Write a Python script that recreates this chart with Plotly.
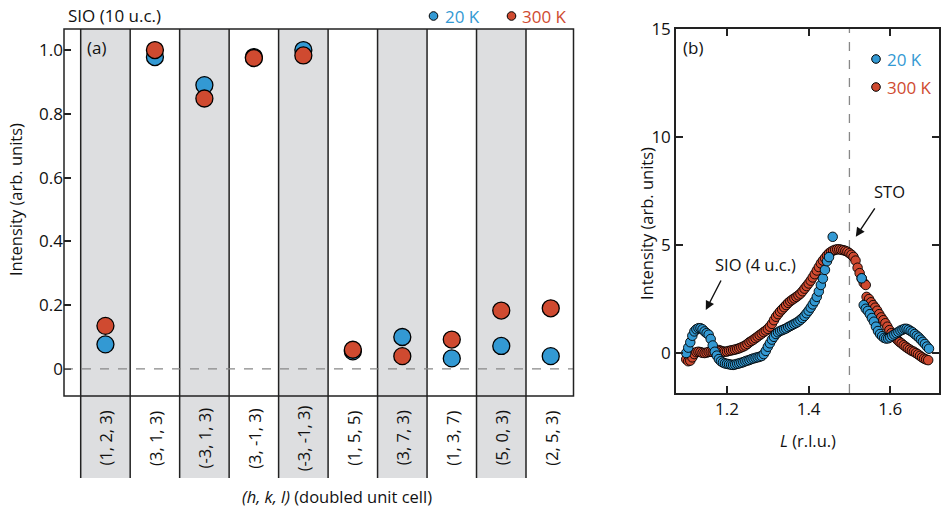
import plotly.graph_objects as go

W, H = 943, 511
def px(x): return x / W
def py(y): return 1 - y / H

BLUE = "#3399D3"
RED = "#CF4A30"
GREY = "#DDDEE0"
FONT = "Open Sans"

# ---------------- Panel (a) data ----------------
hkl_labels = ["(1, 2, 3)", "(3, 1, 3)", "(-3, 1, 3)", "(3, -1, 3)", "(-3, -1, 3)",
              "(1, 5, 5)", "(3, 7, 3)", "(1, 3, 7)", "(5, 0, 3)", "(2, 5, 3)"]
a_20K = [0.077, 0.978, 0.890, 0.978, 1.000, 0.055, 0.100, 0.033, 0.072, 0.040]
a_300K = [0.135, 1.000, 0.848, 0.975, 0.983, 0.060, 0.040, 0.092, 0.183, 0.190]
a_yticks = [0, 0.2, 0.4, 0.6, 0.8, 1.0]
a_yticktext = ["0", "0.2", "0.4", "0.6", "0.8", "1.0"]

# ---------------- Panel (b) data ----------------
L_20K = [1.100, 1.105, 1.110, 1.115, 1.120, 1.125, 1.130, 1.135, 1.140, 1.145,
         1.150, 1.155, 1.160, 1.165, 1.170, 1.175, 1.180, 1.185, 1.190, 1.195,
         1.200, 1.205, 1.210, 1.215, 1.220, 1.225, 1.230, 1.235, 1.240, 1.245,
         1.250, 1.255, 1.260, 1.265, 1.270, 1.275, 1.280, 1.285, 1.290, 1.295,
         1.300, 1.305, 1.310, 1.315, 1.320, 1.325, 1.330, 1.335, 1.340, 1.345,
         1.350, 1.355, 1.360, 1.365, 1.370, 1.375, 1.380, 1.385, 1.390, 1.395,
         1.400, 1.405, 1.410, 1.415, 1.420, 1.425, 1.430, 1.435, 1.440, 1.445,
         1.450, 1.459,
         1.530, 1.535, 1.540, 1.545, 1.550, 1.555, 1.560, 1.565, 1.570, 1.575,
         1.580, 1.585, 1.590, 1.595, 1.600, 1.605, 1.610, 1.615, 1.620, 1.625,
         1.630, 1.635, 1.640, 1.645, 1.650, 1.655, 1.660, 1.665, 1.670, 1.675,
         1.680, 1.685, 1.690, 1.695]
I_20K = [0.00, 0.25, 0.50, 0.80, 1.00, 1.10, 1.15, 1.15, 1.10, 1.00,
         0.92, 0.85, 0.65, 0.35, 0.06, -0.12, -0.28, -0.38, -0.44, -0.48,
         -0.50, -0.52, -0.54, -0.55, -0.53, -0.50, -0.48, -0.45, -0.42, -0.38,
         -0.35, -0.32, -0.28, -0.25, -0.22, -0.20, -0.17, -0.14, -0.05, 0.10,
         0.29, 0.45, 0.62, 0.75, 0.88, 0.96, 1.02, 1.06, 1.10, 1.14,
         1.20, 1.25, 1.30, 1.35, 1.40, 1.46, 1.54, 1.62, 1.72, 1.84,
         1.96, 2.10, 2.25, 2.40, 2.60, 2.85, 3.15, 3.45, 3.85, 4.25,
         4.44, 5.38,
         3.46, 2.22, 2.05, 1.95, 1.80, 1.62, 1.45, 1.22, 1.02, 0.88,
         0.78, 0.70, 0.67, 0.68, 0.73, 0.80, 0.86, 0.92, 0.98, 1.04,
         1.08, 1.12, 1.12, 1.08, 1.02, 0.96, 0.88, 0.80, 0.72, 0.62,
         0.52, 0.42, 0.30, 0.20]

L_300K = [1.100, 1.105, 1.110, 1.115, 1.120, 1.125, 1.130, 1.135, 1.140, 1.145,
          1.150, 1.155, 1.160, 1.165, 1.170, 1.175, 1.180, 1.185, 1.190, 1.195,
          1.200, 1.205, 1.210, 1.215, 1.220, 1.225, 1.230, 1.235, 1.240, 1.245,
          1.250, 1.255, 1.260, 1.265, 1.270, 1.275, 1.280, 1.285, 1.290, 1.295,
          1.300, 1.305, 1.310, 1.315, 1.320, 1.325, 1.330, 1.335, 1.340, 1.345,
          1.350, 1.355, 1.360, 1.365, 1.370, 1.375, 1.380, 1.385, 1.390, 1.395,
          1.400, 1.405, 1.410, 1.415, 1.420, 1.425, 1.430, 1.435, 1.440, 1.445,
          1.450, 1.455, 1.460, 1.465, 1.470, 1.475, 1.480, 1.485, 1.490, 1.495,
          1.500, 1.505, 1.510, 1.515, 1.520, 1.525, 1.530, 1.535, 1.540,
          1.542, 1.548, 1.553, 1.558, 1.563, 1.568, 1.573, 1.578, 1.583, 1.588,
          1.593, 1.598, 1.603, 1.608, 1.613, 1.618, 1.623, 1.628, 1.633, 1.638,
          1.643, 1.648, 1.653, 1.658, 1.663, 1.668, 1.673, 1.678, 1.683, 1.688,
          1.693]
I_300K = [-0.29, -0.38, -0.35, -0.20, -0.05, 0.04, 0.06, 0.04, 0.01, 0.00,
          0.02, 0.05, 0.06, 0.05, 0.06, 0.10, 0.14, 0.10, 0.07, 0.06,
          0.07, 0.10, 0.12, 0.14, 0.16, 0.19, 0.22, 0.26, 0.30, 0.35,
          0.42, 0.50, 0.56, 0.62, 0.69, 0.76, 0.83, 0.90, 0.97, 1.04,
          1.12, 1.22, 1.35, 1.52, 1.68, 1.80, 1.92, 2.02, 2.12, 2.22,
          2.32, 2.40, 2.47, 2.53, 2.60, 2.67, 2.75, 2.86, 2.98, 3.10,
          3.22, 3.35, 3.50, 3.65, 3.82, 3.98, 4.15, 4.28, 4.40, 4.52,
          4.62, 4.69, 4.74, 4.78, 4.80, 4.80, 4.78, 4.76, 4.73, 4.69,
          4.62, 4.55, 4.45, 4.28, 3.95, 3.70, 3.45, 3.25, 3.15,
          2.60, 2.50, 2.35, 2.22, 2.10, 1.96, 1.80, 1.65, 1.52, 1.38,
          1.22, 1.06, 0.92, 0.80, 0.70, 0.60, 0.51, 0.44, 0.36, 0.29,
          0.22, 0.16, 0.10, 0.06, 0.00, -0.06, -0.13, -0.20, -0.26, -0.30,
          -0.33]
b_xticks = [1.2, 1.4, 1.6]
b_yticks = [0, 5, 10, 15]

# ---------------- geometry ----------------
A_L, A_R, A_T, A_B = 64, 573.5, 29, 396
B_L, B_R, B_T, B_B = 676, 939, 29, 393
A_XRANGE = [-0.8375, 9.46]
A_YRANGE = [-0.085, 1.066]
B_XRANGE = [1.075, 1.7195]
B_YRANGE = [-1.85, 15]
EXT_BOTTOM = 478

fig = go.Figure()

fig.add_trace(go.Scatter(
    x=list(range(len(hkl_labels))), y=a_20K, mode="markers", name="20 K",
    marker=dict(size=17, color=BLUE, line=dict(color="black", width=1.3)),
    xaxis="x", yaxis="y", showlegend=False, cliponaxis=False))
fig.add_trace(go.Scatter(
    x=list(range(len(hkl_labels))), y=a_300K, mode="markers", name="300 K",
    marker=dict(size=17, color=RED, line=dict(color="black", width=1.3)),
    xaxis="x", yaxis="y", showlegend=False, cliponaxis=False))

fig.add_trace(go.Scatter(
    x=L_300K, y=I_300K, mode="markers", name="300 K",
    marker=dict(size=9.5, color=RED, line=dict(color="black", width=0.9)),
    xaxis="x2", yaxis="y2", showlegend=False))
fig.add_trace(go.Scatter(
    x=L_20K, y=I_20K, mode="markers", name="20 K",
    marker=dict(size=9.5, color=BLUE, line=dict(color="black", width=0.9)),
    xaxis="x2", yaxis="y2", showlegend=False))

shapes = []
# grey columns and separator lines in panel (a)
for i in range(len(hkl_labels)):
    if i % 2 == 0:
        shapes.append(dict(type="rect", xref="x", yref="paper",
                           x0=i - 0.5, x1=i + 0.5, y0=py(EXT_BOTTOM), y1=py(A_T),
                           fillcolor=GREY, line=dict(width=0), layer="below"))
for i in range(len(hkl_labels)):
    shapes.append(dict(type="line", xref="x", yref="paper",
                       x0=i - 0.5, x1=i - 0.5, y0=py(EXT_BOTTOM), y1=py(A_T),
                       line=dict(color="#222222", width=1.5), layer="above"))
# zero dashed line
shapes.append(dict(type="line", xref="x", yref="y", x0=A_XRANGE[0], x1=A_XRANGE[1],
                   y0=0, y1=0, line=dict(color="#888888", width=1.3, dash="dash"), layer="above"))
# panel (a) frame
shapes.append(dict(type="rect", xref="paper", yref="paper", x0=px(A_L), x1=px(A_R),
                   y0=py(A_B), y1=py(A_T), line=dict(color="#222222", width=1.5),
                   fillcolor="rgba(0,0,0,0)", layer="above"))
# panel (b) dashed line at L = 1.5
shapes.append(dict(type="line", xref="x2", yref="y2", x0=1.5, x1=1.5,
                   y0=B_YRANGE[0], y1=B_YRANGE[1],
                   line=dict(color="#888888", width=1.3, dash="dash"), layer="below"))

# legend dots
def dot(xc, yc, color, r=4.3):
    return dict(type="circle", xref="paper", yref="paper",
                x0=px(xc - r), x1=px(xc + r), y0=py(yc + r), y1=py(yc - r),
                fillcolor=color, line=dict(color="black", width=1))
shapes += [dot(433.5, 16, BLUE), dot(511.5, 16, RED),
           dot(876, 59, BLUE), dot(876, 87, RED)]

ann = []
for i, lab in enumerate(hkl_labels):
    ann.append(dict(x=i, y=py(438), xref="x", yref="paper", text=lab, textangle=-90,
                    xanchor="center", yanchor="middle",
                    showarrow=False, font=dict(size=16.5, color="#111111", family=FONT)))

def txt(x, y, s, color="#111111", size=17, xanchor="left", angle=0):
    return dict(x=px(x), y=py(y), xref="paper", yref="paper", text=s, showarrow=False,
                xanchor=xanchor, yanchor="middle", textangle=angle,
                font=dict(size=size, color=color, family=FONT))

ann += [
    txt(66, 15, "SIO (10 u.c.)"),
    txt(443, 16, "20 K", BLUE),
    txt(520, 16, "300 K", RED),
    txt(85, 47, "(a)"),
    txt(681, 47, "(b)"),
    txt(885, 59, "20 K", BLUE),
    txt(885, 87, "300 K", RED),
    txt(337, 496, "<i>(h, k, l)</i> (doubled unit cell)", size=16.5, xanchor="center"),
    txt(808, 440, "<i>L</i> (r.l.u.)", size=16.5, xanchor="center"),
    txt(15, 200, "Intensity (arb. units)", size=16.5, xanchor="center", angle=-90),
    txt(646, 224, "Intensity (arb. units)", size=16.5, xanchor="center", angle=-90),
    txt(755, 264, "SIO (4 u.c.)", size=16.5, xanchor="center"),
    txt(889, 191, "STO", size=16.5, xanchor="center"),
]
ann.append(dict(x=1.148, y=1.99, xref="x2", yref="y2", ax=16, ay=-31,
                axref="pixel", ayref="pixel", showarrow=True, arrowhead=2,
                arrowsize=1.3, arrowwidth=1.4, arrowcolor="#111111", text=""))
ann.append(dict(x=1.5156, y=5.38, xref="x2", yref="y2", ax=20, ay=-30,
                axref="pixel", ayref="pixel", showarrow=True, arrowhead=2,
                arrowsize=1.3, arrowwidth=1.4, arrowcolor="#111111", text=""))

tickfont = dict(size=17, color="#111111", family=FONT)
fig.update_layout(
    width=W, height=H, margin=dict(l=0, r=0, t=0, b=0, pad=0, autoexpand=False),
    paper_bgcolor="white", plot_bgcolor="rgba(0,0,0,0)",
    font=dict(family=FONT, size=16, color="#111111"),
    xaxis=dict(domain=[px(A_L), px(A_R)], range=A_XRANGE, showticklabels=False,
               showgrid=False, zeroline=False, ticks="", showline=False, automargin=False),
    yaxis=dict(domain=[py(A_B), py(A_T)], range=A_YRANGE, tickvals=a_yticks,
               ticktext=a_yticktext, ticks="inside", ticklen=7, tickwidth=1.5,
               tickcolor="#222222", showgrid=False, zeroline=False, showline=False,
               tickfont=tickfont, automargin=False),
    xaxis2=dict(domain=[px(B_L), px(B_R)], range=B_XRANGE, tickvals=b_xticks,
                ticktext=["1.2", "1.4", "1.6"], ticks="inside", ticklen=7,
                tickwidth=1.5, tickcolor="#222222", showgrid=False, zeroline=False,
                showline=True, linecolor="#222222", linewidth=1.5, mirror="ticks",
                tickfont=tickfont, anchor="y2", automargin=False),
    yaxis2=dict(domain=[py(B_B), py(B_T)], range=B_YRANGE, tickvals=b_yticks,
                ticks="inside", ticklen=7, tickwidth=1.5, tickcolor="#222222",
                showgrid=False, zeroline=False, showline=True, linecolor="#222222",
                linewidth=1.5, mirror="ticks", tickfont=tickfont, anchor="x2",
                automargin=False),
    shapes=shapes, annotations=ann,
)

fig.write_html("out.html")
